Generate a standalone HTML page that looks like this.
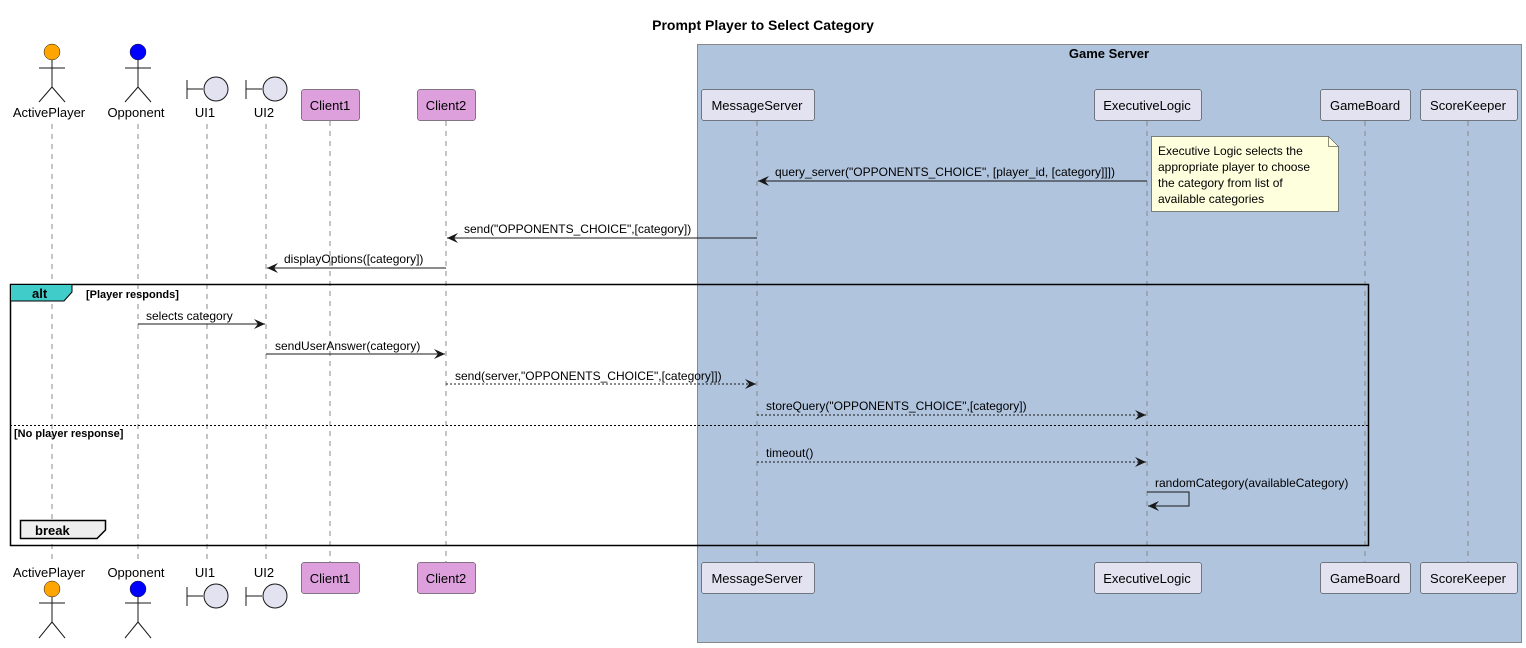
<!DOCTYPE html>
<html><head><meta charset="utf-8"><style>body{margin:0;background:#fff}svg{display:block}text{font-family:"Liberation Sans",sans-serif;font-size:13px;fill:#000}</style></head><body>
<svg width="1526" height="648" viewBox="0 0 1526 648" xmlns="http://www.w3.org/2000/svg">
<defs><marker id="a" markerWidth="12" markerHeight="10" refX="11" refY="5" orient="auto" markerUnits="userSpaceOnUse"><path d="M0,0 L11,5 L0,10 L4,5 Z" fill="#181818"/></marker></defs>
<text x="763" y="30" text-anchor="middle" font-weight="bold" style="font-size:14px">Prompt Player to Select Category</text>
<rect x="697.5" y="44.5" width="824" height="598" fill="#B0C4DE" stroke="#888"/>
<text x="1109" y="58" text-anchor="middle" font-weight="bold">Game Server</text>
<g stroke="#888" stroke-dasharray="5,5" stroke-width="1">
<line x1="52" y1="124" x2="52" y2="562"/><line x1="138" y1="124" x2="138" y2="562"/><line x1="207" y1="124" x2="207" y2="562"/><line x1="266" y1="124" x2="266" y2="562"/><line x1="330" y1="121" x2="330" y2="562"/><line x1="446" y1="121" x2="446" y2="562"/><line x1="757" y1="121" x2="757" y2="562"/><line x1="1147" y1="121" x2="1147" y2="562"/><line x1="1365" y1="121" x2="1365" y2="562"/><line x1="1468" y1="121" x2="1468" y2="562"/>
</g>
<g stroke="#181818" stroke-width="1" fill="none">
<g id="act"><line x1="52" y1="60" x2="52" y2="87"/><line x1="39" y1="68" x2="65" y2="68"/><line x1="52" y1="87" x2="39" y2="102"/><line x1="52" y1="87" x2="65" y2="102"/></g>
<use href="#act" x="86"/>
<g id="actb"><line x1="52" y1="597" x2="52" y2="622"/><line x1="39" y1="603" x2="65" y2="603"/><line x1="52" y1="622" x2="39" y2="638"/><line x1="52" y1="622" x2="65" y2="638"/></g>
<use href="#actb" x="86"/>
</g>
<circle cx="52" cy="52" r="8" fill="#FFA500" stroke="#181818" stroke-width="0.5"/>
<circle cx="138" cy="52" r="8" fill="#0000FF" stroke="#181818" stroke-width="0.5"/>
<circle cx="52" cy="589" r="8" fill="#FFA500" stroke="#181818" stroke-width="0.5"/>
<circle cx="138" cy="589" r="8" fill="#0000FF" stroke="#181818" stroke-width="0.5"/>
<text x="49" y="117" text-anchor="middle">ActivePlayer</text><text x="136" y="117" text-anchor="middle">Opponent</text>
<text x="49" y="577" text-anchor="middle">ActivePlayer</text><text x="136" y="577" text-anchor="middle">Opponent</text>
<g stroke="#181818" fill="#E2E2F0" stroke-width="1">
<line x1="187" y1="80" x2="187" y2="99"/><line x1="187" y1="89" x2="203" y2="89"/><circle cx="216" cy="89" r="12"/>
<line x1="246" y1="80" x2="246" y2="99"/><line x1="246" y1="89" x2="262" y2="89"/><circle cx="275" cy="89" r="12"/>
<line x1="187" y1="587" x2="187" y2="606"/><line x1="187" y1="596" x2="203" y2="596"/><circle cx="216" cy="596" r="12"/>
<line x1="246" y1="587" x2="246" y2="606"/><line x1="246" y1="596" x2="262" y2="596"/><circle cx="275" cy="596" r="12"/>
</g>
<text x="205" y="117" text-anchor="middle">UI1</text><text x="264" y="117" text-anchor="middle">UI2</text>
<text x="205" y="577" text-anchor="middle">UI1</text><text x="264" y="577" text-anchor="middle">UI2</text>
<g stroke="#181818" stroke-width="0.5">
<rect x="301.5" y="89.5" width="58" height="31" rx="2.5" fill="#DDA0DD"/><rect x="417.5" y="89.5" width="58" height="31" rx="2.5" fill="#DDA0DD"/>
<rect x="301.5" y="562.5" width="58" height="31" rx="2.5" fill="#DDA0DD"/><rect x="417.5" y="562.5" width="58" height="31" rx="2.5" fill="#DDA0DD"/>
<rect x="701.5" y="89.5" width="113" height="31" rx="2.5" fill="#E2E2F0"/><rect x="1094.5" y="89.5" width="107" height="31" rx="2.5" fill="#E2E2F0"/>
<rect x="1320.5" y="89.5" width="90" height="31" rx="2.5" fill="#E2E2F0"/><rect x="1420.5" y="89.5" width="97" height="31" rx="2.5" fill="#E2E2F0"/>
<rect x="701.5" y="562.5" width="113" height="31" rx="2.5" fill="#E2E2F0"/><rect x="1094.5" y="562.5" width="107" height="31" rx="2.5" fill="#E2E2F0"/>
<rect x="1320.5" y="562.5" width="90" height="31" rx="2.5" fill="#E2E2F0"/><rect x="1420.5" y="562.5" width="97" height="31" rx="2.5" fill="#E2E2F0"/>
</g>
<g text-anchor="middle">
<text x="330" y="110">Client1</text><text x="446" y="110">Client2</text><text x="757" y="110">MessageServer</text><text x="1147" y="110">ExecutiveLogic</text><text x="1365" y="110">GameBoard</text><text x="1468" y="110">ScoreKeeper</text>
<text x="330" y="583">Client1</text><text x="446" y="583">Client2</text><text x="757" y="583">MessageServer</text><text x="1147" y="583">ExecutiveLogic</text><text x="1365" y="583">GameBoard</text><text x="1468" y="583">ScoreKeeper</text>
</g>
<path d="M1151.5,136.5 L1328.5,136.5 L1338.5,146.5 L1338.5,211.5 L1151.5,211.5 Z" fill="#FEFFDD" stroke="#181818" stroke-width="0.5"/>
<path d="M1328.5,136.5 L1328.5,146.5 L1338.5,146.5" fill="none" stroke="#181818" stroke-width="0.5"/>
<g style="font-size:12px"><text x="1158" y="155" style="font-size:12px">Executive Logic selects the</text><text x="1158" y="171" style="font-size:12px">appropriate player to choose</text><text x="1158" y="187" style="font-size:12px">the category from list of</text><text x="1158" y="203" style="font-size:12px"> available categories</text></g>
<g stroke="#181818" stroke-width="1" fill="none">
<line x1="1147" y1="181" x2="758" y2="181" marker-end="url(#a)"/>
<line x1="757" y1="238" x2="447" y2="238" marker-end="url(#a)"/>
<line x1="446" y1="268" x2="267" y2="268" marker-end="url(#a)"/>
<line x1="138" y1="324" x2="265" y2="324" marker-end="url(#a)"/>
<line x1="266" y1="354" x2="445" y2="354" marker-end="url(#a)"/>
<line x1="446" y1="384" x2="756" y2="384" stroke-dasharray="2,2" marker-end="url(#a)"/>
<line x1="757" y1="415" x2="1146" y2="415" stroke-dasharray="2,2" marker-end="url(#a)"/>
<line x1="757" y1="462" x2="1146" y2="462" stroke-dasharray="2,2" marker-end="url(#a)"/>
<path d="M1147,492 L1189,492 L1189,506 L1148,506" marker-end="url(#a)"/>
</g>
<text x="775" y="176" style="font-size:12px">query_server("OPPONENTS_CHOICE", [player_id, [category]]])</text>
<text x="464" y="233" style="font-size:12px">send("OPPONENTS_CHOICE",[category])</text>
<text x="284" y="263" style="font-size:12px">displayOptions([category])</text>
<text x="146" y="320" style="font-size:12px">selects category</text>
<text x="275" y="350" style="font-size:12px">sendUserAnswer(category)</text>
<text x="455" y="380" style="font-size:12px">send(server,"OPPONENTS_CHOICE",[category]])</text>
<text x="766" y="410" style="font-size:12px">storeQuery("OPPONENTS_CHOICE",[category])</text>
<text x="766" y="457" style="font-size:12px">timeout()</text>
<text x="1155" y="487" style="font-size:12px">randomCategory(availableCategory)</text>
<rect x="10.5" y="284.5" width="1358" height="261" fill="none" stroke="#000" stroke-width="1.5"/>
<path d="M10.5,284.5 L72,284.5 L72,292 L64,301 L10.5,301 Z" fill="#40CCC8" stroke="#000" stroke-width="1"/>
<text x="32" y="298" font-weight="bold">alt</text>
<text x="86" y="298" font-weight="bold" style="font-size:11px">[Player responds]</text>
<line x1="10" y1="425.5" x2="1369" y2="425.5" stroke="#000" stroke-dasharray="2,2"/>
<text x="14" y="437" font-weight="bold" style="font-size:11px">[No player response]</text>
<path d="M20.5,520.5 L105.5,520.5 L105.5,530 L97,538.5 L20.5,538.5 Z" fill="#EEEEEE" stroke="#000" stroke-width="1.5"/>
<text x="35" y="535" font-weight="bold">break</text>
</svg>
</body></html>
